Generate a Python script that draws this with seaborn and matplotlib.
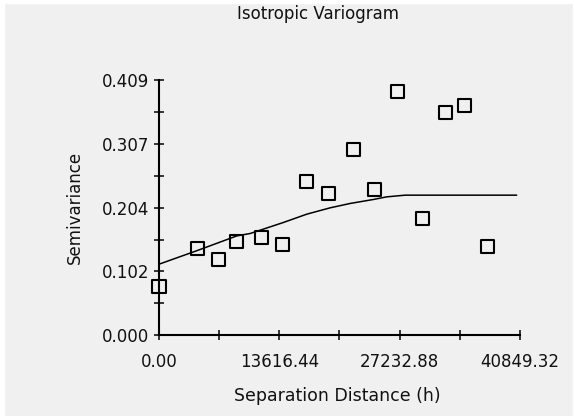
import matplotlib
matplotlib.use("Agg")
import matplotlib.pyplot as plt
import seaborn as sns
import pandas as pd
from matplotlib.ticker import FixedLocator

# ---- data ----
lag_h = [0, 4330, 6704, 8819, 11645, 14019, 16654, 19220, 22047, 24421,
         27021, 29848, 32448, 34596, 37197]
semivar = [0.0786, 0.1391, 0.1219, 0.1496, 0.1561, 0.1455, 0.2470, 0.2266,
           0.2972, 0.2330, 0.3902, 0.1865, 0.3572, 0.3678, 0.1427]

model_h = [0, 4330, 8819, 10322, 14087, 16733, 19367, 21628, 24263, 25778,
           27847, 40475]
model_gamma = [0.1139, 0.1358, 0.1593, 0.1631, 0.1808, 0.1941, 0.2042,
               0.2112, 0.2176, 0.2218, 0.2245, 0.2245]

x_major = [0.0, 13616.44, 27232.88, 40849.32]
x_minor = [6808.22, 20424.66, 34041.10]
x_labels = ["0.00", "13616.44", "27232.88", "40849.32"]
y_major = [0.0, 0.10225, 0.2045, 0.30675, 0.409]
y_minor = [0.051125, 0.153375, 0.255625, 0.357875]
y_labels = ["0.000", "0.102", "0.204", "0.307", "0.409"]

title = "Isotropic Variogram"
xlab = "Separation Distance (h)"
ylab = "Semivariance"

bg = "#f0f0f0"
sns.set_theme(style="white", rc={"axes.facecolor": bg, "figure.facecolor": bg})
plt.rcParams["font.family"] = ["DejaVu Sans"]

fig = plt.figure(figsize=(5.74, 4.16), dpi=100)
ax = fig.add_axes([0.2770, 0.1940, 0.6289, 0.6137])
ax.set_facecolor(bg)

pts = pd.DataFrame({"h": lag_h, "g": semivar})
mdl = pd.DataFrame({"h": model_h, "g": model_gamma})

sns.lineplot(data=mdl, x="h", y="g", ax=ax, color="black", linewidth=1.1,
             sort=False, estimator=None)
sns.scatterplot(data=pts, x="h", y="g", ax=ax, marker="s", s=88,
                facecolor="none", edgecolor="black", linewidth=1.5,
                clip_on=False, zorder=5)

ax.set_xlim(0, 40849.32)
ax.set_ylim(0, 0.409)

ax.xaxis.set_major_locator(FixedLocator(x_major))
ax.xaxis.set_minor_locator(FixedLocator(x_minor))
ax.set_xticklabels(x_labels)
ax.yaxis.set_major_locator(FixedLocator(y_major))
ax.yaxis.set_minor_locator(FixedLocator(y_minor))
ax.set_yticklabels(y_labels)

for side in ["top", "right"]:
    ax.spines[side].set_visible(False)
for side in ["left", "bottom"]:
    ax.spines[side].set_color("black")
    ax.spines[side].set_linewidth(1.5)

ax.tick_params(axis="both", which="both", direction="inout", length=7.2,
               width=1.1, color="black", labelsize=12, labelcolor="#111111")
ax.tick_params(axis="x", which="both", pad=9.5, bottom=True)
ax.tick_params(axis="y", which="both", pad=3.5, left=True)

ax.set_xlabel(xlab, fontsize=12.5, color="#111111", va="center")
ax.set_ylabel(ylab, fontsize=12, color="#111111", va="center")
ax.xaxis.set_label_coords(0.494, -0.238)
ax.yaxis.set_label_coords(-0.233, 0.499)

fig.text(318 / 574, 1 - 14 / 416, title, ha="center", va="center",
         fontsize=12, color="#111111")

# thin white bands at the image borders (top, left, right)
W, H = 574.0, 416.0
for (x0, y0, w, h) in [(0, 1 - 2.5 / H, 1, 2.5 / H),
                       (0, 0, 4 / W, 1),
                       (1 - 1 / W, 0, 1 / W, 1)]:
    fig.patches.append(plt.Rectangle((x0, y0), w, h,
                                     transform=fig.transFigure,
                                     color="white", zorder=-1))

fig.savefig("out.png", dpi=100, facecolor=bg)
